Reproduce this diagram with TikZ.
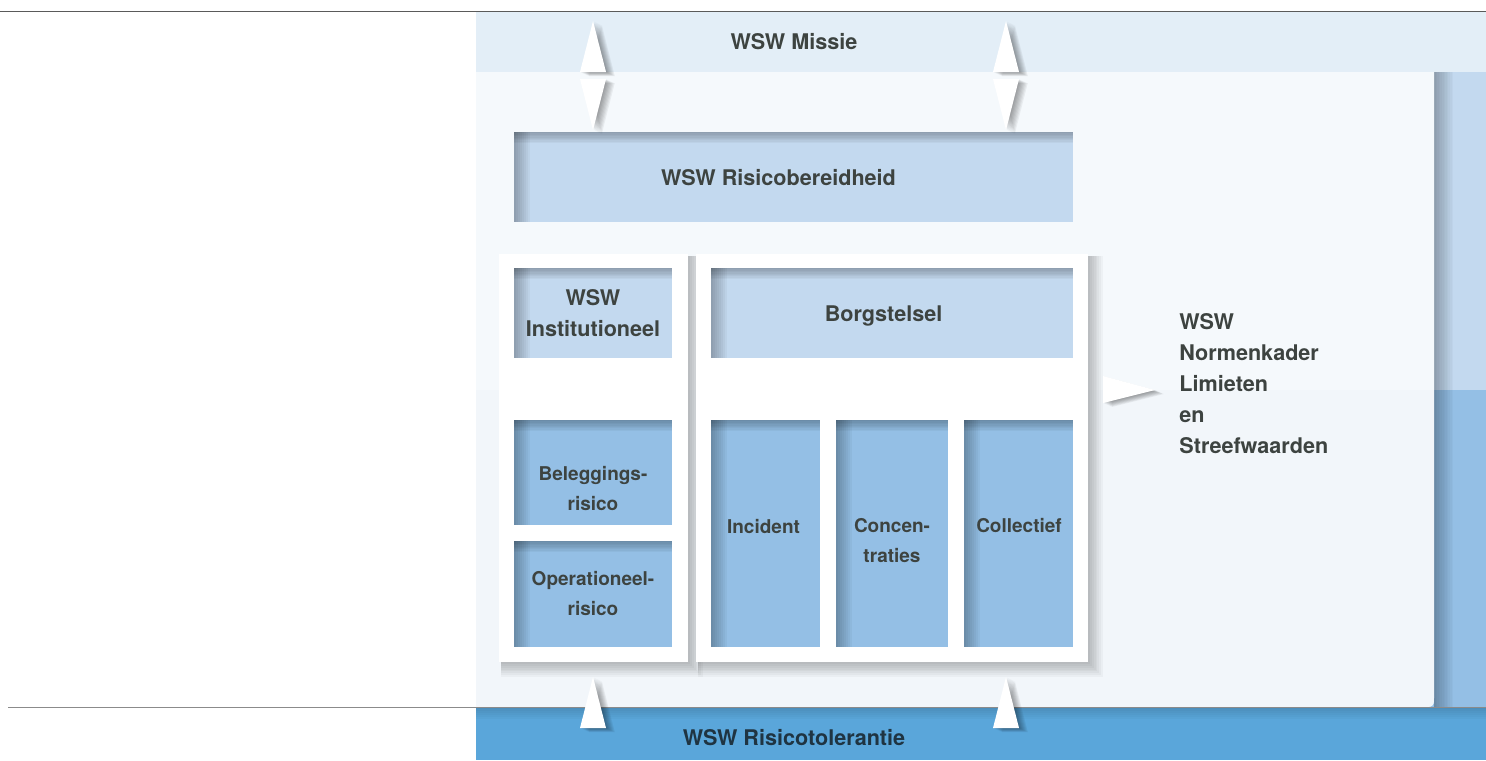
\documentclass[tikz,border=0pt]{standalone}
\usepackage{fontspec}
\setmainfont{TeX Gyre Heros}
\definecolor{bandtop}{HTML}{E3EEF7}
\definecolor{panelA}{HTML}{F5F9FC}
\definecolor{panelB}{HTML}{F2F6FA}
\definecolor{boxA}{HTML}{C3D9EF}
\definecolor{boxB}{HTML}{94BFE5}
\definecolor{bandbot}{HTML}{5AA6DA}
\definecolor{txt}{HTML}{3D4340}
\definecolor{txtdark}{HTML}{1F3442}
\definecolor{rule}{HTML}{5A5A5A}
\newcommand\mytrishadow[1]{\foreach \k in {1,...,8}{\fill[black,opacity=0.05,xshift=\k*0.55pt,yshift=-\k*0.25pt] #1;}}
\newcommand\mypanelshadow[1]{\foreach \k in {1,...,8}{\fill[black,opacity=0.03] ([xshift=1pt,yshift=-1pt]#1.north west) rectangle ([xshift=\k*0.9pt,yshift=-\k*0.9pt]#1.south east);}}
\tikzset{
  lbl/.style={font=\fontsize{10.8}{15.5}\selectfont\bfseries, text=txt, align=center, inner sep=0pt},
  slbl/.style={font=\fontsize{9.5}{15}\selectfont\bfseries, text=txt, align=center, inner sep=0pt},
  sz/.style 2 args={minimum width=#1*0.5pt, minimum height=#2*0.5pt, inner sep=0pt, draw=none},
  innershadow/.style={path picture={
    \foreach \i in {1,...,8}{
      \fill[black,opacity=0.035] (path picture bounding box.north west) rectangle ([yshift=-\i*0.7pt]path picture bounding box.north east);
      \fill[black,opacity=0.035] (path picture bounding box.north west) rectangle ([xshift=\i*1pt]path picture bounding box.south west);
    }}},
  lightbox/.style={fill=boxA, innershadow},
  midbox/.style={fill=boxB, innershadow},
  panel/.style={fill=white},
  tri/.style={fill=white},
  rulestyle/.style={draw=rule, line width=0.5pt}
}
\begin{document}
\begin{tikzpicture}[x=0.5pt,y=-0.5pt]
\useasboundingbox (0,0) rectangle (1486,760);
% background bands
\fill[boxA] (476,72) rectangle (1486,390);
\fill[boxB] (476,390) rectangle (1486,707);
% shadow of main panel on the right
\foreach \k in {1,...,12}{\fill[black,opacity=0.022] (1434,72) rectangle (1434+\k*1.6,707);}
% main panel
\fill[panelA] (476,72) -- (1434,72) -- (1434,694) .. controls (1434,707) .. (1421,707) -- (476,707) -- cycle;
\begin{scope}
  \clip (476,72) -- (1434,72) -- (1434,694) .. controls (1434,707) .. (1421,707) -- (476,707) -- cycle;
  \fill[panelB] (476,390) rectangle (1434,707);
\end{scope}
\fill[bandtop] (476,11) rectangle (1486,72);
\fill[bandbot] (476,707) rectangle (1486,760);
\foreach \k in {1,...,6}{\fill[black,opacity=0.025] (476,707) rectangle (1486,707+\k*2);}
% rules
\draw[rulestyle] (0,11) -- (1486,11);
\draw[rulestyle, draw=rule!70] (8,707) -- (1486,707);
% labels of bands
\node[lbl] (missie) at (794,42) {WSW Missie};
\node[lbl, text=txtdark] (tolerantie) at (794,738) {WSW Risicotolerantie};
% risicobereidheid
\node[sz={559}{90}, lightbox] (rb) at (793.5,177) {};
\node[lbl] (rbt) at (778.5,178) {WSW Risicobereidheid};
% white panels
\coordinate (lpc) at (593.5,458);
\coordinate (rpc) at (892,458);
\node[sz={189}{408}] (lps) at (lpc) {};
\node[sz={392}{408}] (rps) at (rpc) {};
\mypanelshadow{lps}
\mypanelshadow{rps}
\node[sz={189}{408}, panel] (lp) at (lpc) {};
\node[sz={392}{408}, panel] (rp) at (rpc) {};
% boxes in left panel
\node[sz={158}{90}, lightbox] (inst) at (593,313) {};
\node[lbl] (instt) at (593,313) {WSW\\Institutioneel};
\node[sz={158}{105}, midbox] (bel) at (593,472.5) {};
\node[slbl] (belt) at (593,488.5) {Beleggings-\\risico};
\node[sz={158}{106}, midbox] (ope) at (593,594) {};
\node[slbl] (opet) at (593,593) {Operationeel-\\risico};
% boxes in right panel
\node[sz={362}{90}, lightbox] (borg) at (892,313) {};
\node[lbl] (borgt) at (883.5,316) {Borgstelsel};
\node[sz={109}{227}, midbox] (inc) at (765.5,533.5) {};
\node[slbl] (inct) at (763.5,526) {Incident};
\node[sz={112}{227}, midbox] (con) at (892,533.5) {};
\node[slbl] (cont) at (892,541) {Concen-\\traties};
\node[sz={109}{227}, midbox] (col) at (1018.5,533.5) {};
\node[slbl] (colt) at (1019,526) {Collectief};
% normenkader text
\node[lbl, align=left, anchor=west] (norm) at (1179,384) {WSW\\Normenkader\\Limieten\\en\\Streefwaarden};
% arrows (white triangles)
\mytrishadow{(580,72) -- (593,21) -- (606,72) -- cycle}
\mytrishadow{(580,79) -- (593,130) -- (606,79) -- cycle}
\mytrishadow{(993,72) -- (1006,21) -- (1019,72) -- cycle}
\mytrishadow{(993,79) -- (1006,130) -- (1019,79) -- cycle}
\mytrishadow{(1103,376) -- (1155,390) -- (1103,403) -- cycle}
\mytrishadow{(580,728) -- (593,677) -- (606,728) -- cycle}
\mytrishadow{(993,728) -- (1006,677) -- (1019,728) -- cycle}
\path[tri] (580,72) -- (593,21) -- (606,72) -- cycle;
\path[tri] (580,79) -- (593,130) -- (606,79) -- cycle;
\path[tri] (993,72) -- (1006,21) -- (1019,72) -- cycle;
\path[tri] (993,79) -- (1006,130) -- (1019,79) -- cycle;
\path[tri] (1103,376) -- (1155,390) -- (1103,403) -- cycle;
\path[tri] (580,728) -- (593,677) -- (606,728) -- cycle;
\path[tri] (993,728) -- (1006,677) -- (1019,728) -- cycle;
\end{tikzpicture}
\end{document}
